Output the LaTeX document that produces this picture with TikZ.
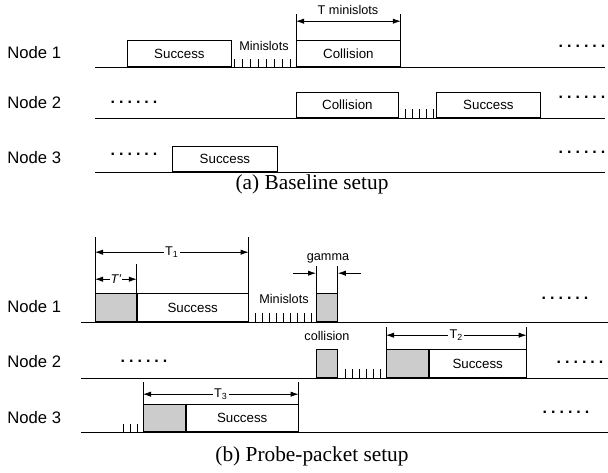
\documentclass[tikz,border=0pt]{standalone}
\usepackage{fontspec}
\setmainfont{Liberation Serif}
\setsansfont{Liberation Sans}
\usetikzlibrary{arrows.meta,calc}
\newcommand{\sixdots}{.\hspace{3pt}.\hspace{3pt}.\hspace{3pt}.\hspace{3pt}.\hspace{3pt}.}

\begin{document}
\begin{tikzpicture}[x=0.75pt, y=-0.75pt, line width=0.6pt,
  lbl/.style={font=\sffamily\fontsize{12.5}{14}\selectfont, anchor=west, inner sep=0},
  slot/.style={draw, anchor=south west, inner sep=0, font=\sffamily\fontsize{10}{12}\selectfont},
  probe/.style={slot, fill=gray!40},
  small/.style={font=\sffamily\fontsize{9.5}{11}\selectfont, inner sep=1pt},
  dim/.style={{Latex[length=6pt,width=4pt]}-{Latex[length=6pt,width=4pt]}},
  gap/.style={-{Latex[length=6pt,width=4pt]}},
  dots/.style={font=\sffamily\bfseries\fontsize{12}{14}\selectfont, anchor=base, inner sep=0},
  subcap/.style={font=\fontsize{16}{18}\selectfont, inner sep=0}]
\useasboundingbox (0,0) rectangle (608,473);

\node[lbl] (n1a) at (7,53) {Node 1};
\node[lbl] (n2a) at (7,103) {Node 2};
\node[lbl] (n3a) at (7,158) {Node 3};
\draw (95,67) -- (605,67);
\draw (95,118) -- (605,118);
\draw (95,172) -- (605,172);

\node[slot, minimum width=78pt, minimum height=19.5pt] (s1a) at (127,67) {Success};
\node[small] (m1a) at (264,46) {Minislots};
\foreach \x in {234,242,...,290} \draw (\x,67) -- (\x,59);
\node[slot, minimum width=78pt, minimum height=19.5pt] (c1a) at (296,67) {Collision};
\draw (c1a.north west) -- ++(0,-26);
\draw (c1a.north east) -- ++(0,-26);
\draw[dim] ($(c1a.north west)+(0,-19)$) -- ($(c1a.north east)+(0,-19)$);
\node[small] (tm) at (348,10) {T minislots};
\node[dots] (d1a) at (582,48) {\sixdots};

\node[dots] (d2al) at (134,104) {\sixdots};
\node[slot, minimum width=76.5pt, minimum height=18.75pt] (c2a) at (296,118) {Collision};
\foreach \x in {405,412,...,433} \draw (\x,118) -- (\x,109);
\node[slot, minimum width=78pt, minimum height=18.75pt] (s2a) at (436,118) {Success};
\node[dots] (d2a) at (582,99) {\sixdots};

\node[dots] (d3al) at (134,156) {\sixdots};
\node[slot, minimum width=78.75pt, minimum height=18.75pt] (s3a) at (172,172) {Success};
\node[dots] (d3a) at (582,154) {\sixdots};

\node[subcap] (capa) at (312,184) {(a) Baseline setup};

\node[lbl] (n1b) at (7,307) {Node 1};
\node[lbl] (n2b) at (7,362) {Node 2};
\node[lbl] (n3b) at (7,418) {Node 3};
\draw (81,322) -- (608,322);
\draw (81,378) -- (608,378);
\draw (81,432) -- (608,432);

\node[probe, minimum width=30.75pt, minimum height=21pt] (p1) at (95,322) {};
\node[slot, minimum width=83.25pt, minimum height=21pt] (s1b) at (p1.south east) {Success};
\draw (p1.north west) -- ++(0,-56);
\draw (s1b.north east) -- ++(0,-56);
\draw (p1.north east) -- ++(0,-29);
\draw[dim] ($(p1.north west)+(0,-41)$) -- node[small, fill=white] (t1) {T\textsubscript{1}} ($(s1b.north east)+(0,-41)$);
\draw[dim] ($(p1.north west)+(0,-14)$) -- node[small, fill=white, inner sep=0.5pt] (tp) {\textit{T'}} ($(p1.north east)+(0,-14)$);
\node[small] (m1b) at (284,299) {Minislots};
\foreach \x in {255,262,...,311} \draw (\x,322) -- (\x,313);
\node[probe, minimum width=15.75pt, minimum height=21pt] (g1) at (316,322) {};
\draw (g1.north west) -- ++(0,-27);
\draw (g1.north east) -- ++(0,-27);
\draw[gap] ($(g1.north west)+(-23,-20)$) -- ($(g1.north west)+(0,-20)$);
\draw[gap] ($(g1.north east)+(23,-20)$) -- ($(g1.north east)+(0,-20)$);
\node[small] (gam) at (328,258) {gamma};
\node[dots] (d1b) at (565,300) {\sixdots};

\node[dots] (d2bl) at (144,363) {\sixdots};
\node[small] (col) at (327,336) {collision};
\node[probe, minimum width=15.75pt, minimum height=21pt] (g2) at (316,378) {};
\foreach \x in {345,352,...,380} \draw (\x,378) -- (\x,369);
\node[probe, minimum width=31.5pt, minimum height=21pt] (p2) at (386,378) {};
\node[slot, minimum width=72.75pt, minimum height=21pt] (s2b) at (p2.south east) {Success};
\draw (p2.north west) -- ++(0,-22);
\draw (s2b.north east) -- ++(0,-22);
\draw[dim] ($(p2.north west)+(0,-14)$) -- node[small, fill=white] (t2) {T\textsubscript{2}} ($(s2b.north east)+(0,-14)$);
\node[dots] (d2b) at (580,364) {\sixdots};

\foreach \x in {123,130,137} \draw (\x,432) -- (\x,424);
\node[probe, minimum width=31.5pt, minimum height=20.25pt] (p3) at (143,432) {};
\node[slot, minimum width=84pt, minimum height=20.25pt] (s3b) at (p3.south east) {Success};
\draw (p3.north west) -- ++(0,-22);
\draw (s3b.north east) -- ++(0,-22);
\draw[dim] ($(p3.north west)+(0,-10)$) -- node[small, fill=white] (t3) {T\textsubscript{3}} ($(s3b.north east)+(0,-10)$);
\node[dots] (d3b) at (566,414) {\sixdots};

\node[subcap] (capb) at (312,456) {(b) Probe-packet setup};
\end{tikzpicture}
\end{document}
